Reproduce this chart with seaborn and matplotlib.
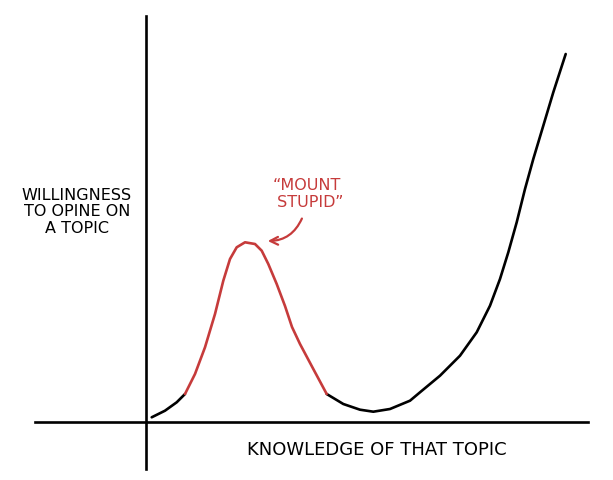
import matplotlib
matplotlib.use('Agg')
import matplotlib.pyplot as plt
import pandas as pd
import seaborn as sns

# curve: knowledge (x) vs willingness to opine (y)
# three pieces: the black start, the red "mount", the black valley + climb
start_x = [0.57, 1.9, 3.07, 3.9]
start_y = [0.47, 1.13, 1.97, 2.8]

mount_x = [3.9, 4.9, 5.9, 6.9, 7.73, 8.4, 9.07, 9.9, 10.9, 11.57, 12.23, 13.07, 13.9, 14.6, 15.4, 16.73, 18.07]
mount_y = [2.8, 4.8, 7.47, 10.8, 14.13, 16.3, 17.47, 17.97, 17.8, 17.13, 15.8, 13.8, 11.6, 9.5, 7.8, 5.3, 2.8]

climb_x = [18.07, 19.73, 21.4, 22.73, 24.4, 26.4, 27.4, 29.4, 31.4, 33.07, 34.4, 35.4, 36.23,
           37.07, 37.9, 38.73, 39.73, 40.73, 41.97]
climb_y = [2.8, 1.8, 1.23, 1.03, 1.3, 2.13, 2.97, 4.63, 6.63, 8.97, 11.63, 14.3, 16.97,
           19.97, 23.3, 26.3, 29.63, 32.97, 36.8]

red = '#c63b3b'

pieces = []
for seg, (xs, ys, zone) in enumerate([(start_x, start_y, 'plain'),
                                      (mount_x, mount_y, 'mount'),
                                      (climb_x, climb_y, 'plain')]):
    pieces.append(pd.DataFrame({'knowledge': xs, 'willingness': ys,
                                'segment': seg, 'zone': zone}))
df = pd.concat(pieces, ignore_index=True)

sns.set_style('white')
plt.rcParams['font.family'] = ['DejaVu Sans']

fig = plt.figure(figsize=(6.13, 4.81), dpi=100)
ax = fig.add_axes([0, 0, 1, 1])

sns.lineplot(data=df, x='knowledge', y='willingness', hue='zone', units='segment',
             estimator=None, sort=False, palette={'plain': 'black', 'mount': red},
             linewidth=1.9, legend=False, ax=ax)
for line in ax.lines:
    line.set_solid_joinstyle('round')
    line.set_solid_capstyle('round')

ax.set_xlim(-14.6, 46.7)
ax.set_ylim(-5.8, 42.3)

# hand drawn axes crossing at the origin
for side in ['top', 'right']:
    ax.spines[side].set_visible(False)
ax.spines['left'].set_position(('data', 0))
ax.spines['bottom'].set_position(('data', 0))
ax.spines['left'].set_bounds(-4.7, 40.6)
ax.spines['bottom'].set_bounds(-11.1, 44.2)
for side in ['left', 'bottom']:
    ax.spines[side].set_linewidth(1.9)
    ax.spines[side].set_color('black')
ax.set_xticks([])
ax.set_yticks([])
ax.set_xlabel('')
ax.set_ylabel('')

ax.text(23.1, -2.7, 'KNOWLEDGE OF THAT TOPIC', ha='center', va='center',
        fontsize=13, color='black')
ax.text(-6.9, 21.1, 'WILLINGNESS\nTO OPINE ON\nA TOPIC', ha='center', va='center',
        fontsize=11.5, color='black', linespacing=1.15, multialignment='center')

ax.text(16.2, 22.9, '\u201cMOUNT\n STUPID\u201d', ha='center', va='center',
        fontsize=11.5, color=red, linespacing=1.1, multialignment='left')
ax.annotate('', xy=(11.9, 18.1), xytext=(15.7, 20.6),
            arrowprops=dict(arrowstyle='->', color=red, lw=1.6,
                            connectionstyle='arc3,rad=-0.35', mutation_scale=14))

fig.savefig('out.png', dpi=100)
